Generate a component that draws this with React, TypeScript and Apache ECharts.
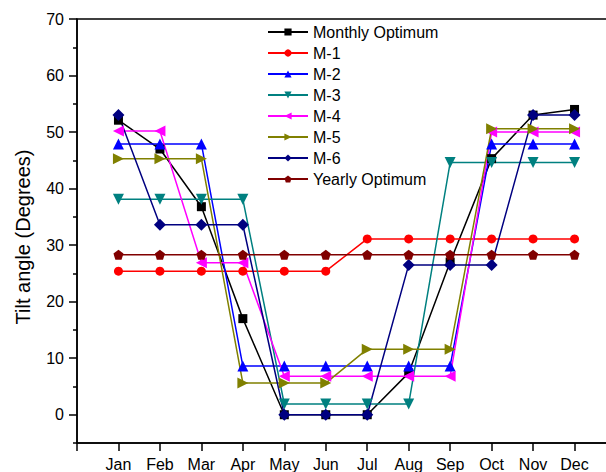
import React, { useEffect, useRef } from "react";
import * as echarts from "echarts";

const months = ["Jan", "Feb", "Mar", "Apr", "May", "Jun", "Jul", "Aug", "Sep", "Oct", "Nov", "Dec"];
const yMajorTicks = [0, 10, 20, 30, 40, 50, 60, 70];
const yMinorTicks = [-5, 5, 15, 25, 35, 45, 55, 65];

const monthlyOptimum = [52.1, 47.0, 36.8, 17.0, 0, 0, 0, 7.4, 27.0, 45.3, 53.0, 54.0];
const m1 = [25.4, 25.4, 25.4, 25.4, 25.4, 25.4, 31.1, 31.1, 31.1, 31.1, 31.1, 31.1];
const m2 = [47.9, 47.9, 47.9, 8.6, 8.6, 8.6, 8.6, 8.6, 8.6, 47.9, 47.9, 47.9];
const m3 = [38.1, 38.1, 38.1, 38.1, 1.9, 1.9, 1.9, 1.9, 44.6, 44.6, 44.6, 44.6];
const m4 = [50.2, 50.2, 26.9, 26.9, 6.8, 6.8, 6.8, 6.8, 6.8, 50.0, 50.0, 50.0];
const m5 = [45.3, 45.3, 45.3, 5.6, 5.6, 5.6, 11.6, 11.6, 11.6, 50.6, 50.6, 50.6];
const m6 = [53.0, 33.6, 33.6, 33.6, 0, 0, 0, 26.5, 26.5, 26.5, 53.0, 53.0];
const yearlyOptimum = [28.3, 28.3, 28.3, 28.3, 28.3, 28.3, 28.3, 28.3, 28.3, 28.3, 28.3, 28.3];

const pentagon = "path://M0,-10 L9.51,-3.09 L5.88,8.09 L-5.88,8.09 L-9.51,-3.09 Z";

const seriesDefs = [
  { name: "Monthly Optimum", data: monthlyOptimum, color: "#000000", symbol: "rect", rotate: 0, size: 9 },
  { name: "M-1", data: m1, color: "#ff0000", symbol: "circle", rotate: 0, size: 9 },
  { name: "M-2", data: m2, color: "#0000ff", symbol: "triangle", rotate: 0, size: 11 },
  { name: "M-3", data: m3, color: "#008080", symbol: "triangle", rotate: 180, size: 11 },
  { name: "M-4", data: m4, color: "#ff00ff", symbol: "triangle", rotate: 90, size: 11 },
  { name: "M-5", data: m5, color: "#808000", symbol: "triangle", rotate: -90, size: 11 },
  { name: "M-6", data: m6, color: "#000080", symbol: "diamond", rotate: 0, size: 12 },
  { name: "Yearly Optimum", data: yearlyOptimum, color: "#800000", symbol: pentagon, rotate: 0, size: 10 },
];

const FONT = "'Liberation Sans', Arial, sans-serif";

export default function App() {
  const ref = useRef<HTMLDivElement>(null);
  useEffect(() => {
    if (!ref.current) return;
    const chart = echarts.init(ref.current, null, { renderer: "svg" });
    const axisLineStyle = { color: "#000", width: 1.5 };
    chart.setOption({
      animation: false,
      backgroundColor: "#fff",
      grid: {
        left: 77,
        top: 19,
        width: 539,
        height: 424,
        outerBoundsMode: "none",
        containLabel: false,
        show: true,
        borderColor: "#000",
        borderWidth: 1.5,
        backgroundColor: "transparent",
      },
      legend: {
        orient: "vertical",
        left: 262,
        top: 19,
        itemWidth: 40,
        itemHeight: 9,
        itemGap: 5,
        textStyle: { fontSize: 16, color: "#000", fontFamily: FONT },
        data: seriesDefs.map((s) => s.name),
      },
      xAxis: [
        {
          type: "value",
          min: 0,
          max: 13,
          interval: 1,
          axisLine: { show: true, onZero: false, lineStyle: axisLineStyle },
          axisTick: { show: true, length: 8, lineStyle: axisLineStyle },
          axisLabel: {
            fontSize: 16,
            color: "#000",
            fontFamily: FONT,
            margin: 13,
            formatter: (v: number) => months[v - 1] ?? "",
          },
          splitLine: { show: false },
        },
      ],
      yAxis: [
        {
          type: "value",
          position: "left",
          min: -5,
          max: 70,
          interval: 5,
          name: "Tilt angle (Degrees)",
          nameLocation: "middle",
          nameGap: 44,
          nameTextStyle: { fontSize: 20, color: "#000", fontFamily: FONT, padding: [0, 12, 0, 0] },
          axisLine: { show: true, onZero: false, lineStyle: axisLineStyle },
          axisTick: { show: true, length: 8, lineStyle: axisLineStyle, customValues: yMajorTicks },
          axisLabel: {
            fontSize: 16,
            color: "#000",
            fontFamily: FONT,
            margin: 13,
            customValues: yMajorTicks,
          },
          splitLine: { show: false },
        },
        {
          type: "value",
          position: "left",
          min: -5,
          max: 70,
          interval: 5,
          axisLine: { show: false },
          axisTick: { show: true, length: 4, lineStyle: axisLineStyle, customValues: yMinorTicks },
          axisLabel: { show: false },
          splitLine: { show: false },
        },
      ],
      series: seriesDefs.map((s) => ({
        name: s.name,
        type: "line",
        xAxisIndex: 0,
        yAxisIndex: 0,
        data: s.data.map((v, i) => [i + 1, v]),
        symbol: s.symbol,
        symbolRotate: s.rotate,
        symbolSize: s.size,
        showAllSymbol: true,
        lineStyle: { color: s.color, width: 1.5 },
        itemStyle: { color: s.color },
        emphasis: { disabled: true },
      })),
    });
    return () => chart.dispose();
  }, []);
  return (
    <div
      ref={ref}
      style={{ position: "absolute", left: 0, top: 0, width: 606, height: 472 }}
    />
  );
}
